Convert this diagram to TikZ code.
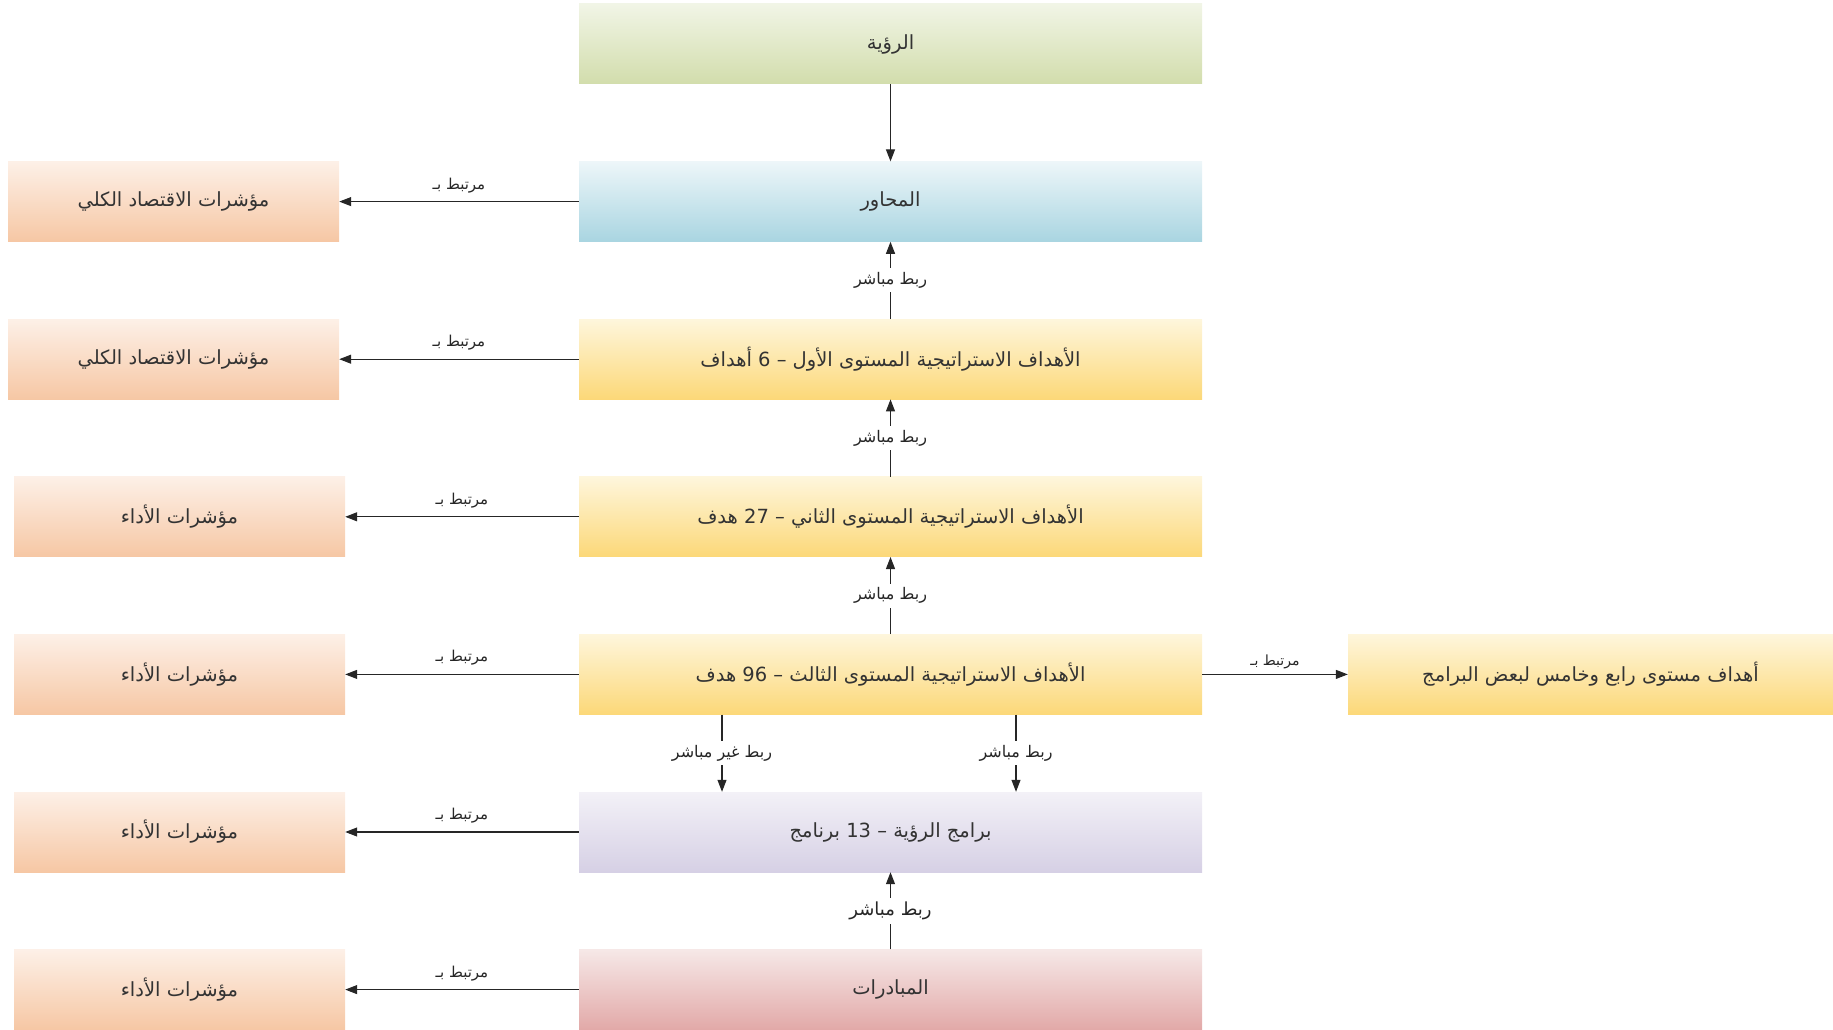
\documentclass[tikz,border=0pt]{standalone}
\usepackage{fontspec}
\newfontfamily\arabicfont[Script=Arabic]{DejaVu Sans}
\TeXXeTstate=1
\usetikzlibrary{arrows.meta}

\newcommand{\ar}[1]{\arabicfont\beginR #1\endR}

\definecolor{grnA}{HTML}{F1F5E6}
\definecolor{grnB}{HTML}{D2DDAC}
\definecolor{bluA}{HTML}{EDF6F9}
\definecolor{bluB}{HTML}{A9D5E1}
\definecolor{yelA}{HTML}{FEF6DC}
\definecolor{yelB}{HTML}{FCD878}
\definecolor{lavA}{HTML}{F3F1F7}
\definecolor{lavB}{HTML}{D6D0E5}
\definecolor{pnkA}{HTML}{F6E8E7}
\definecolor{pnkB}{HTML}{E2A9A8}
\definecolor{pchA}{HTML}{FDF0E7}
\definecolor{pchB}{HTML}{F6C7A4}

\begin{document}
\begin{tikzpicture}[x=1pt, y=-1pt,
    box/.style={minimum width=623pt, minimum height=80pt, inner sep=0pt,
        text=black!80, font=\fontsize{19.5}{23}\selectfont},
    ind/.style={box, minimum width=331pt, top color=pchA, bottom color=pchB},
    lbl/.style={font=\fontsize{15}{18}\selectfont, text=black!85},
    gap/.style={lbl, fill=white, inner sep=4pt, font=\fontsize{16}{19}\selectfont},
    arr/.style={-{Stealth[length=12pt, width=9pt, inset=0pt]}, line width=1.1pt, black!85}]

    \useasboundingbox (0,0) rectangle (1833,1030);

    % Main column
    \node[box, top color=grnA, bottom color=grnB] (r1) at (890.5,44) {\ar{الرؤية}};
    \node[box, top color=bluA, bottom color=bluB] (r2) at (890.5,201.6) {\ar{المحاور}};
    \node[box, top color=yelA, bottom color=yelB] (r3) at (890.5,359.2) {\ar{الأهداف الاستراتيجية المستوى الأول – 6 أهداف}};
    \node[box, top color=yelA, bottom color=yelB] (r4) at (890.5,516.8) {\ar{الأهداف الاستراتيجية المستوى الثاني – 27 هدف}};
    \node[box, top color=yelA, bottom color=yelB] (r5) at (890.5,674.4) {\ar{الأهداف الاستراتيجية المستوى الثالث – 96 هدف}};
    \node[box, top color=lavA, bottom color=lavB] (r6) at (890.5,832) {\ar{برامج الرؤية – 13 برنامج}};
    \node[box, top color=pnkA, bottom color=pnkB] (r7) at (890.5,989.6) {\ar{المبادرات}};

    % Indicators on the left
    \node[ind] (m2) at (173.5,201.6) {\ar{مؤشرات الاقتصاد الكلي}};
    \node[ind] (m3) at (173.5,359.2) {\ar{مؤشرات الاقتصاد الكلي}};
    \foreach \i/\y in {4/516.8, 5/674.4, 6/832, 7/989.6} {
        \node[ind] (m\i) at (179.5,\y) {\ar{مؤشرات الأداء}};
    }

    % Lower level goals on the right
    \node[box, minimum width=485pt, top color=yelA, bottom color=yelB] (x5) at (1590.5,674.4) {\ar{أهداف مستوى رابع وخامس لبعض البرامج}};

    % Links to indicators
    \foreach \i in {2,...,7} {
        \draw[arr] (r\i.west) -- (m\i.east) node[midway, above=5pt, lbl] {\ar{مرتبط بـ}};
    }
    \draw[arr] (r5.east) -- (x5.west) node[midway, above=2pt, lbl, font=\fontsize{14}{16}\selectfont] {\ar{مرتبط بـ}};

    % Vertical links
    \draw[arr] (r1) -- (r2);
    \draw[arr] (r3) -- node[gap] {\ar{ربط مباشر}} (r2);
    \draw[arr] (r4) -- node[gap] {\ar{ربط مباشر}} (r3);
    \draw[arr] (r5) -- node[gap] {\ar{ربط مباشر}} (r4);
    \draw[arr] ([xshift=-168.5pt]r5.south) -- node[gap] {\ar{ربط غير مباشر}} ([xshift=-168.5pt]r6.north);
    \draw[arr] ([xshift=125.5pt]r5.south) -- node[gap] {\ar{ربط مباشر}} ([xshift=125.5pt]r6.north);
    \draw[arr] (r7) -- node[gap, font=\fontsize{18}{21}\selectfont] {\ar{ربط مباشر}} (r6);
\end{tikzpicture}
\end{document}
